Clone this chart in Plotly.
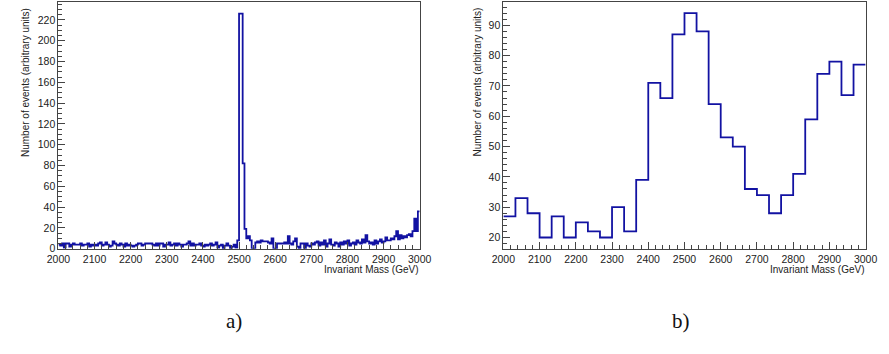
import numpy as np
import plotly.graph_objects as go

# ---------------- data ----------------
mass_min = 2000
mass_max = 3000

# panel a) : 200 bins of 5 GeV
left_counts = [
    # 2000-2100
    4, 3, 5, 1, 5, 5, 2, 4, 5, 4, 4, 4, 5, 3, 4, 4, 5, 2, 4, 3,
    # 2100-2200
    4, 3, 5, 6, 3, 4, 6, 4, 2, 3, 7, 5, 4, 3, 5, 4, 2, 5, 3, 4,
    # 2200-2300
    3, 2, 3, 4, 5, 5, 3, 4, 5, 5, 5, 5, 4, 3, 5, 3, 5, 5, 2, 4,
    # 2300-2400
    4, 6, 3, 4, 5, 3, 5, 4, 2, 4, 4, 5, 7, 3, 5, 3, 4, 4, 5, 3,
    # 2400-2500
    2, 4, 3, 4, 5, 3, 4, 6, 1, 3, 4, 0, 3, 5, 3, 0, 2, 4, 1, 8,
    # 2500-2600
    226, 226, 82, 19, 10, 12, 8, 0, 0, 6, 7, 6, 8, 7, 7, 7, 6, 5, 10, 0,
    # 2600-2700
    0, 5, 5, 5, 5, 6, 5, 12, 5, 4, 7, 10, 2, 0, 5, 5, 0, 5, 3, 2,
    # 2700-2800
    5, 4, 6, 7, 3, 6, 4, 8, 2, 5, 9, 4, 3, 6, 5, 2, 6, 4, 7, 5,
    # 2800-2900
    8, 3, 5, 6, 4, 8, 6, 5, 9, 6, 13, 7, 5, 6, 4, 8, 5, 7, 9, 6,
    # 2900-3000
    7, 11, 8, 8, 10, 9, 12, 17, 9, 13, 10, 12, 11, 13, 14, 12, 17, 29, 17, 36,
]

# panel b) : 30 bins
right_counts = [27, 33, 28, 20, 27, 20, 25, 22, 20, 30,
                22, 39, 71, 66, 87, 94, 88, 64, 53, 50,
                36, 34, 28, 34, 41, 59, 74, 78, 67, 77]

y_title = "Number of events (arbitrary units)"
x_title = "Invariant Mass (GeV)"
panel_labels = ["a)", "b)"]

# ---------------- layout helpers ----------------
W, H = 889, 354
def fx(px):
    return px / W
def fy(py):
    return (H - py) / H

line_col = "#1212a2"
tick_font = dict(family="Liberation Sans, Arial, sans-serif", size=10.5, color="#222")

def hist_xy(counts):
    edges = np.linspace(mass_min, mass_max, len(counts) + 1)
    return list(edges), list(counts) + [counts[-1]]

fig = go.Figure()

xa, ya = hist_xy(left_counts)
fig.add_trace(go.Scatter(x=xa, y=ya, mode="lines", line=dict(color=line_col, width=1.8, shape="hv"),
                         xaxis="x", yaxis="y", showlegend=False, hoverinfo="skip"))
xb, yb = hist_xy(right_counts)
fig.add_trace(go.Scatter(x=xb, y=yb, mode="lines", line=dict(color=line_col, width=1.8, shape="hv"),
                         xaxis="x2", yaxis="y2", showlegend=False, hoverinfo="skip"))

common_x = dict(range=[mass_min, mass_max], tick0=2000, dtick=100, ticks="inside", ticklen=7,
                tickcolor="#444", showline=True, linecolor="#444", linewidth=1, mirror=True,
                showgrid=False, zeroline=False, tickfont=tick_font, ticklabelstandoff=1,
                minor=dict(ticks="inside", ticklen=3.5, dtick=20, tickcolor="#444", showgrid=False))
common_y = dict(ticks="inside", ticklen=7, tickcolor="#444", showline=True, linecolor="#444",
                linewidth=1, mirror=True, showgrid=False, zeroline=False, tickfont=tick_font)

left_px = (47.7, 419.0)
right_px = (505.0, 877.3)
top_px, bot_px = 2.0, 253.0

fig.update_layout(
    width=W, height=H, margin=dict(l=0, r=0, t=0, b=0),
    paper_bgcolor="white", plot_bgcolor="white",
    xaxis=dict(domain=[fx(left_px[0]), fx(left_px[1])], anchor="y", **common_x),
    yaxis=dict(domain=[fy(bot_px), fy(top_px)], anchor="x", range=[0, 237.3], tick0=0, dtick=20,
               minor=dict(ticks="inside", ticklen=3.5, dtick=5, tickcolor="#444", showgrid=False),
               **common_y),
    xaxis2=dict(domain=[fx(right_px[0]), fx(right_px[1])], anchor="y2", **common_x),
    yaxis2=dict(domain=[fy(bot_px), fy(top_px)], anchor="x2", range=[16.3, 97.7], tick0=0, dtick=10,
                minor=dict(ticks="inside", ticklen=3.5, dtick=2, tickcolor="#444", showgrid=False),
                **common_y),
)

title_font = dict(family="Liberation Sans, Arial, sans-serif", size=10, color="#222")
annotations = []
for (l, r), xt in [(left_px, 14), (right_px, 478)]:
    annotations.append(dict(x=fx(xt), y=fy(6), xref="paper", yref="paper", text=y_title,
                            textangle=-90, xanchor="center", yanchor="top", showarrow=False,
                            font=title_font))
    annotations.append(dict(x=fx(r), y=fy(267), xref="paper", yref="paper", text=x_title,
                            xanchor="right", yanchor="top", showarrow=False, font=title_font))
for lab, cx in zip(panel_labels, [228, 688]):
    annotations.append(dict(x=fx(cx), y=fy(327), xref="paper", yref="paper", text=lab,
                            xanchor="center", yanchor="middle", showarrow=False,
                            font=dict(family="Liberation Serif, DejaVu Serif, serif", size=21, color="#111")))
fig.update_layout(annotations=annotations)

fig.write_html("out.html")
